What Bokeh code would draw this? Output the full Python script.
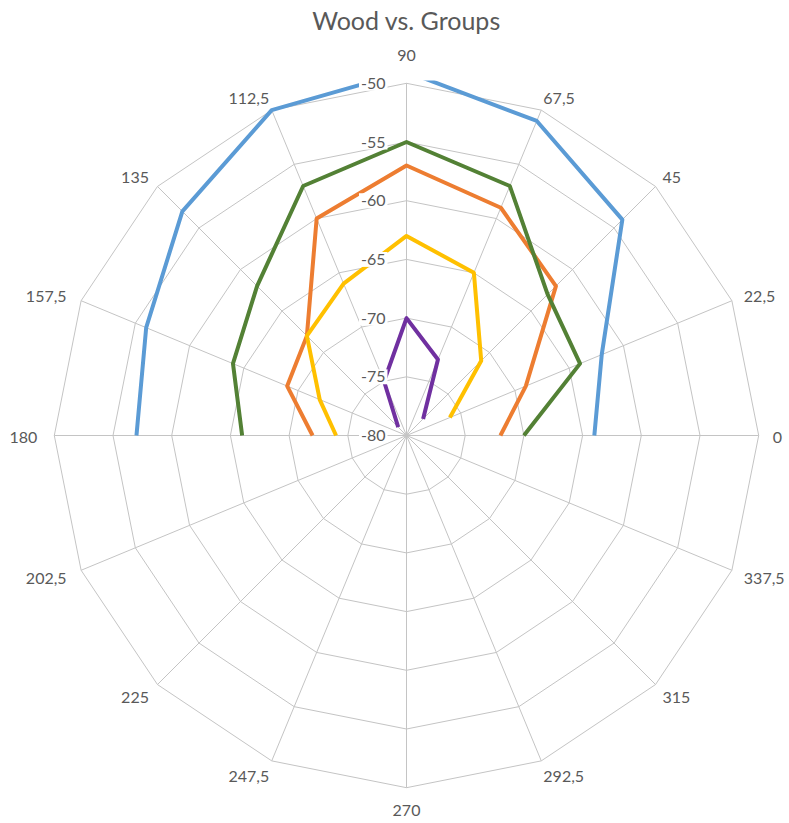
import math
import numpy as np
from bokeh.plotting import figure
from bokeh.models import Range1d, Label, BoxAnnotation
from bokeh.embed import file_html
from bokeh.resources import INLINE

# ---------------- data ----------------
title_text = "Wood vs. Groups"
angles = [0, 22.5, 45, 67.5, 90, 112.5, 135, 157.5, 180,
          202.5, 225, 247.5, 270, 292.5, 315, 337.5]
categories = ["0", "22,5", "45", "67,5", "90", "112,5", "135", "157,5", "180",
              "202,5", "225", "247,5", "270", "292,5", "315", "337,5"]
radial_ticks = [-80, -75, -70, -65, -60, -55, -50]
radial_labels = ["-80", "-75", "-70", "-65", "-60", "-55", "-50"]
r_min, r_max = -80, -50

nan = float("nan")
series_blue = [-64, -62, -54, -51, -49, -50, -53, -56, -57, nan, nan, nan, nan, nan, nan, nan]
series_orange = [-72, -69, -62, -59, -57, -60, -68, -69, -72, nan, nan, nan, nan, nan, nan, nan]
series_green = [-70, -64, -63, -57, -55, -57, -62, -64, -66, nan, nan, nan, nan, nan, nan, nan]
series_yellow = [nan, -76, -71, -65, -63, -66, -68, -72, -74, nan, nan, nan, nan, nan, nan, nan]
series_purple = [nan, nan, -78, -73, -70, -75, -79, nan, nan, nan, nan, nan, nan, nan, nan, nan]

series = [
    (series_blue, "#5B9BD5"),
    (series_orange, "#ED7D31"),
    (series_green, "#538135"),
    (series_yellow, "#FFC000"),
    (series_purple, "#7030A0"),
]

# ---------------- layout ----------------
W, H = 789, 823
PX = 11.74            # pixels per value unit
CX, CY = 406, 435     # centre in figure pixels

p = figure(width=W, height=H, output_backend="svg", toolbar_location=None,
           x_axis_type=None, y_axis_type=None,
           x_range=Range1d(-CX / PX, (W - CX) / PX),
           y_range=Range1d(-(H - CY) / PX, CY / PX),
           min_border_left=0, min_border_right=0,
           min_border_top=0, min_border_bottom=0)
p.outline_line_color = None
p.grid.visible = False
p.background_fill_color = "white"
p.border_fill_color = "white"

span = r_max - r_min
th = np.radians(np.array(angles, dtype=float))
cos_t, sin_t = np.cos(th), np.sin(th)

grid_color = "#c4c4c4"
# rings
for t in radial_ticks[1:]:
    rr = t - r_min
    xs = list(rr * cos_t) + [rr * cos_t[0]]
    ys = list(rr * sin_t) + [rr * sin_t[0]]
    p.line(xs, ys, line_color=grid_color, line_width=1)
# spokes
p.multi_line([[0, span * c] for c in cos_t], [[0, span * s] for s in sin_t],
             line_color=grid_color, line_width=1)

# series
for vals, col in series:
    v = np.array(vals, dtype=float) - r_min
    p.line(v * cos_t, v * sin_t, line_color=col, line_width=4, line_join="round")

# plot-area clip just above the outer ring (values beyond are cut off)
p.add_layout(BoxAnnotation(bottom=span + 2.8 / PX, fill_color="white", fill_alpha=1,
                           line_color=None))

font = "Lato"
text_col = "#595959"

# radial labels
for t, lab in zip(radial_ticks, radial_labels):
    p.add_layout(Label(x=0, y=t - r_min, text=lab, x_offset=-19,
                       text_align="right", text_baseline="middle",
                       text_font=font, text_font_size="16px", text_color=text_col,
                       background_fill_color="white", padding=2))

# category labels
for a, lab, c, s in zip(angles, categories, cos_t, sin_t):
    if abs(c) < 1e-6:
        align, xo = "center", 0
    elif c > 0:
        align, xo = "left", 14 * c * c
    else:
        align, xo = "right", -17 * c * c
    if s > 0.99:
        yo = 30
    elif s < -0.99:
        yo = -21
    else:
        yo = 15 * s
    yo -= 2
    p.add_layout(Label(x=span * c, y=span * s, text=lab, x_offset=xo, y_offset=yo,
                       text_align=align, text_baseline="middle",
                       text_font=font, text_font_size="16px", text_color=text_col))

# title
p.add_layout(Label(x=0, y=span, text=title_text, y_offset=63,
                   text_align="center", text_baseline="middle",
                   text_font=font, text_font_size="25px", text_color=text_col))

open("out.html", "w").write(file_html(p, INLINE))
